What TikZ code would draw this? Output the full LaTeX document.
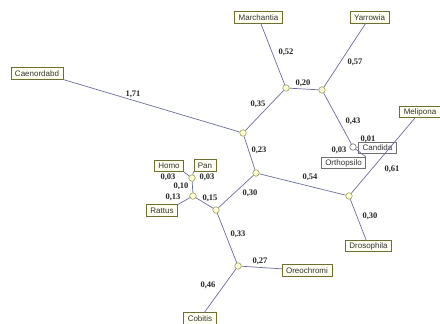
\documentclass[tikz,border=0pt]{standalone}
\usepackage{fontspec}
\setmainfont{Liberation Sans}
\newfontfamily\labfont{Liberation Serif}
\definecolor{edgec}{HTML}{6A6E9E}
\definecolor{boxline}{HTML}{6E6E30}
\definecolor{boxfill}{HTML}{FFFFF2}
\definecolor{jfill}{HTML}{FFFFDC}
\definecolor{jline}{HTML}{9A9A50}
\definecolor{greyline}{HTML}{707070}
\tikzset{
  taxon/.style={draw=boxline, fill=boxfill, line width=0.6pt, font=\fontsize{8}{9}\selectfont,
    inner xsep=4pt, inner ysep=0pt, minimum height=11.5pt, text=black!80},
  taxongrey/.style={taxon, draw=greyline, fill=white},
  junction/.style={circle, draw=jline, fill=jfill, line width=0.6pt, minimum size=6.5pt, inner sep=0pt},
  junctiongrey/.style={junction, draw=greyline, fill=white},
  branch/.style={draw=edgec, line width=0.7pt},
  blen/.style={font=\labfont\bfseries\fontsize{8.5}{9}\selectfont, inner sep=0.5pt, text=black!85}
}
\begin{document}
\begin{tikzpicture}[x=1pt,y=-1pt]
\fill[white] (0,0) rectangle (440,324);
\useasboundingbox (0,0) rectangle (440,324);

% leaves
\node[taxon] (cae) at (37,73.5) {Caenordabd};
\node[taxon] (mar) at (258.5,17.5) {Marchantia};
\node[taxon] (yar) at (369.5,17.5) {Yarrowia};
\node[taxon] (mel) at (420,112) {Melipona};
\node[taxongrey] (can) at (377.5,148) {Candida};
\node[taxongrey] (ort) at (343.5,163) {Orthopsilo};
\node[taxon] (dro) at (368.5,246) {Drosophila};
\node[taxon] (ore) at (307,270.5) {Oreochromi};
\node[taxon] (cob) at (200,318.5) {Cobitis};
\node[taxon] (hom) at (169,166) {Homo};
\node[taxon] (pan) at (205,165.5) {Pan};
\node[taxon] (rat) at (162,210.5) {Rattus};

% internal nodes
\node[junction] (a) at (286,88) {};
\node[junction] (b) at (322,90) {};
\node[junction] (c) at (243,133) {};
\node[junction] (d) at (256,173) {};
\node[junction] (e) at (216,210) {};
\node[junction] (f) at (192,178) {};
\node[junction] (g) at (193,196) {};
\node[junction] (h) at (238,266) {};
\node[junctiongrey] (cn) at (353,147) {};
\node[junction] (dn) at (349,196) {};

% branches
\draw[branch] (cae.south east) -- (c);
\draw[branch] (mar) -- (a);
\draw[branch] (yar) -- (b);
\draw[branch] (a) -- (b);
\draw[branch] (a) -- (c);
\draw[branch] (b) -- (cn);
\draw[branch] (cn) -- (can);
\draw[branch] (cn) -- (ort.north east);
\draw[branch] (c) -- (d);
\draw[branch] (d) -- (dn);
\draw[branch] (mel) -- (dn);
\draw[branch] (dn) -- (dro);
\draw[branch] (d) -- (e);
\draw[branch] (e) -- (g);
\draw[branch] (g) -- (f);
\draw[branch] (f) -- (hom.south east);
\draw[branch] (f) -- (pan.south west);
\draw[branch] (g) -- (rat.north east);
\draw[branch] (e) -- (h);
\draw[branch] (h) -- (ore);
\draw[branch] (h) -- (cob);

% branch lengths
\node[blen] (l1) at (133,94) {1,71};
\node[blen] (l2) at (286,52) {0,52};
\node[blen] (l3) at (355,62) {0,57};
\node[blen] (l4) at (303,83) {0,20};
\node[blen] (l5) at (258,104) {0,35};
\node[blen] (l6) at (353,121) {0,43};
\node[blen] (l7) at (368,139) {0,01};
\node[blen] (l8) at (339,150) {0,03};
\node[blen] (l9) at (392,169) {0,61};
\node[blen] (l10) at (259,150) {0,23};
\node[blen] (l11) at (310,177) {0,54};
\node[blen] (l12) at (370,216) {0,30};
\node[blen] (l13) at (250,193) {0,30};
\node[blen] (l14) at (210,198) {0,15};
\node[blen] (l15) at (168,177) {0,03};
\node[blen] (l16) at (207,177) {0,03};
\node[blen] (l17) at (181,186) {0,10};
\node[blen] (l18) at (173,197) {0,13};
\node[blen] (l19) at (238,234) {0,33};
\node[blen] (l20) at (260,261) {0,27};
\node[blen] (l21) at (208,285) {0,46};
\end{tikzpicture}
\end{document}
